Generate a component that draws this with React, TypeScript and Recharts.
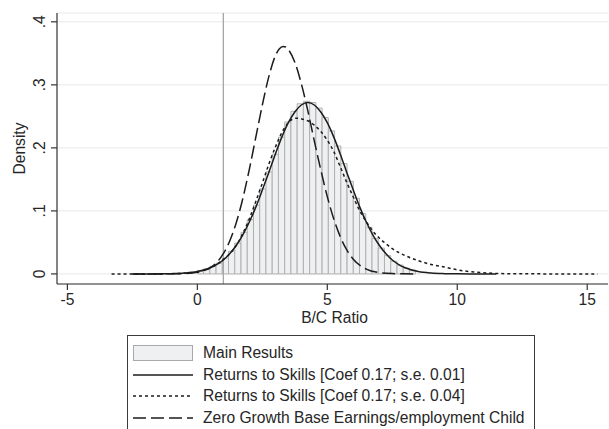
import React from "react";
import {
  ComposedChart,
  Line,
  XAxis,
  YAxis,
  CartesianGrid,
  ReferenceArea,
  ReferenceLine,
} from "recharts";

const FONT = "'Liberation Sans', Arial, Helvetica, sans-serif";
const TEXT = "#262626";

// histogram bins (left edge), bin width 0.24
const binStarts = [
  0, 0.24, 0.48, 0.72, 0.96, 1.2, 1.44, 1.68, 1.92, 2.16, 2.4, 2.64, 2.88,
  3.12, 3.36, 3.6, 3.84, 4.08, 4.32, 4.56, 4.8, 5.04, 5.28, 5.52, 5.76, 6.0,
  6.24, 6.48, 6.72, 6.96, 7.2, 7.44, 7.68, 7.92, 8.16,
];
const BIN_WIDTH = 0.24;
const binHeights = [
  0.005, 0.008, 0.012, 0.017, 0.025, 0.036, 0.049, 0.066, 0.086, 0.109, 0.135,
  0.162, 0.19, 0.217, 0.241, 0.258, 0.27, 0.274, 0.272, 0.263, 0.248, 0.227,
  0.203, 0.175, 0.147, 0.12, 0.096, 0.074, 0.056, 0.041, 0.029, 0.02, 0.014,
  0.009, 0.006,
];

// Returns to Skills [Coef 0.17; s.e. 0.01]
const solidX = [
  -2.5, -2, -1.5, -1, -0.5, 0, 0.5, 1, 1.25, 1.5, 1.75, 2, 2.25, 2.5, 2.75, 3,
  3.25, 3.5, 3.75, 4, 4.25, 4.5, 4.75, 5, 5.25, 5.5, 5.75, 6, 6.25, 6.5, 6.75,
  7, 7.25, 7.5, 7.75, 8, 8.5, 9, 9.5, 10, 10.5, 11, 11.5,
];
const solidY = [
  0, 0, 0.0001, 0.0004, 0.0013, 0.0037, 0.0097, 0.022, 0.0323, 0.0455, 0.0621,
  0.0824, 0.106, 0.133, 0.161, 0.19, 0.217, 0.24, 0.257, 0.268, 0.272, 0.268,
  0.257, 0.24, 0.217, 0.19, 0.161, 0.133, 0.106, 0.0824, 0.0621, 0.0455, 0.0323,
  0.022, 0.0149, 0.0097, 0.0037, 0.0013, 0.0004, 0.0001, 0, 0, 0,
];

// Returns to Skills [Coef 0.17; s.e. 0.04]
const dottedX = [
  -3.3, -2.5, -2, -1.5, -1, -0.5, 0, 0.5, 1, 1.25, 1.5, 1.75, 2, 2.25, 2.5,
  2.75, 3, 3.25, 3.5, 3.8, 4, 4.25, 4.5, 4.75, 5, 5.25, 5.5, 5.75, 6, 6.25, 6.5,
  6.75, 7, 7.25, 7.5, 7.75, 8, 8.5, 9, 9.5, 10, 10.5, 11, 11.5, 12, 13, 14, 15.4,
];
const dottedY = [
  0, 0, 0, 0.0001, 0.0003, 0.001, 0.0035, 0.0095, 0.023, 0.032, 0.0454, 0.0643,
  0.0875, 0.115, 0.144, 0.174, 0.201, 0.224, 0.24, 0.247, 0.246, 0.243, 0.236,
  0.226, 0.212, 0.194, 0.17, 0.145, 0.122, 0.1, 0.083, 0.068, 0.057, 0.048,
  0.04, 0.034, 0.029, 0.021, 0.015, 0.011, 0.0065, 0.0035, 0.0018, 0.0008,
  0.0003, 0.0001, 0, 0,
];

// Zero Growth Base Earnings/employment Child
const dashedX = [
  -2.5, -2, -1.5, -1, -0.5, 0, 0.5, 0.75, 1, 1.25, 1.5, 1.75, 2, 2.25, 2.5,
  2.75, 3, 3.15, 3.3, 3.4, 3.5, 3.75, 4, 4.25, 4.5, 4.75, 5, 5.25, 5.5, 5.75, 6,
  6.5, 7, 7.5, 8, 8.5,
];
const dashedY = [
  0, 0, 0, 0.0001, 0.0005, 0.0025, 0.01, 0.0184, 0.0321, 0.0527, 0.0817, 0.1197,
  0.166, 0.217, 0.268, 0.313, 0.346, 0.357, 0.361, 0.36, 0.356, 0.336, 0.302,
  0.259, 0.211, 0.165, 0.1226, 0.087, 0.0589, 0.038, 0.0234, 0.0077, 0.0021,
  0.0005, 0.0001, 0,
];

const xTicks = [-5, 0, 5, 10, 15];
const yTicks = [0, 0.1, 0.2, 0.3, 0.4];
const yTickLabels = ["0", ".1", ".2", ".3", ".4"];
const cutoffX = 1;

const legendItems = [
  { label: "Main Results", kind: "box" },
  { label: "Returns to Skills [Coef 0.17; s.e. 0.01]", kind: "solid" },
  { label: "Returns to Skills [Coef 0.17; s.e. 0.04]", kind: "dotted" },
  { label: "Zero Growth Base Earnings/employment Child", kind: "dashed" },
];

const zip = (xs: number[], ys: number[]) => xs.map((x, i) => ({ x, y: ys[i] }));
const solidData = zip(solidX, solidY);
const dottedData = zip(dottedX, dottedY);
const dashedData = zip(dashedX, dashedY);

const LINE = "#1c1c1c";
const DASH: Record<string, string | undefined> = {
  solid: undefined,
  dotted: "3 3",
  dashed: "13 5",
};

function YTick(props: any) {
  const { x, y, payload } = props;
  const i = yTicks.indexOf(payload.value);
  return (
    <text
      x={x}
      y={y}
      transform={`rotate(-90 ${x} ${y})`}
      textAnchor="middle"
      fontSize={15.6}
      fontFamily={FONT}
      fill={TEXT}
    >
      {i >= 0 ? yTickLabels[i] : payload.value}
    </text>
  );
}

function Swatch({ kind }: { kind: string }) {
  return (
    <svg width={60} height={16} style={{ display: "block", flex: "none" }}>
      {kind === "box" ? (
        <rect x={0.5} y={0.5} width={59} height={15} fill="#eef0f2" stroke="#a9a9a9" />
      ) : (
        <line
          x1={0}
          x2={60}
          y1={8}
          y2={8}
          stroke={LINE}
          strokeWidth={1.5}
          strokeDasharray={DASH[kind]}
        />
      )}
    </svg>
  );
}

export default function App() {
  return (
    <div
      style={{
        position: "fixed",
        left: 0,
        top: 0,
        width: 609,
        height: 429,
        overflow: "hidden",
        background: "#fff",
      }}
    >
      <ComposedChart
        width={609}
        height={329}
        margin={{ top: 13, right: 1, left: 0, bottom: 0 }}
      >
        <CartesianGrid vertical={false} stroke="#e8e8e8" strokeWidth={1} />
        <XAxis
          type="number"
          dataKey="x"
          domain={[-5.4, 15.8]}
          allowDataOverflow
          ticks={xTicks}
          height={45}
          tickSize={6}
          tickMargin={4}
          axisLine={{ stroke: "#333", strokeWidth: 1.2 }}
          tickLine={{ stroke: "#333", strokeWidth: 1.2 }}
          tick={{ fontSize: 15.6, fill: TEXT, fontFamily: FONT }}
          label={{
            content: (p: any) => {
              const vb = p.viewBox || { x: 57, y: 284, width: 551 };
              return (
                <text
                  x={vb.x + vb.width / 2 + 2}
                  y={vb.y + 38.6}
                  textAnchor="middle"
                  fontSize={15.6}
                  fontFamily={FONT}
                  fill={TEXT}
                >
                  B/C Ratio
                </text>
              );
            },
          }}
        />
        <YAxis
          type="number"
          dataKey="y"
          domain={[-0.016, 0.414]}
          allowDataOverflow
          ticks={yTicks}
          width={57}
          tickSize={6}
          tickMargin={5.5}
          axisLine={{ stroke: "#333", strokeWidth: 1.2 }}
          tickLine={{ stroke: "#333", strokeWidth: 1.2 }}
          tick={<YTick />}
          label={{
            content: (p: any) => {
              const vb = p.viewBox || { x: 0, y: 13, height: 271 };
              const cy = vb.y + vb.height / 2;
              return (
                <text
                  x={25}
                  y={cy}
                  transform={`rotate(-90 25 ${cy})`}
                  textAnchor="middle"
                  fontSize={15.6}
                  fontFamily={FONT}
                  fill={TEXT}
                >
                  Density
                </text>
              );
            },
          }}
        />
        {binStarts.map((b, i) => (
          <ReferenceArea
            key={i}
            x1={b}
            x2={b + BIN_WIDTH}
            y1={0}
            y2={binHeights[i]}
            fill="#eef0f2"
            fillOpacity={1}
            stroke="#b0b0b0"
            strokeWidth={1}
          />
        ))}
        <ReferenceLine x={cutoffX} stroke="#a6a6a6" strokeWidth={1.3} />
        <Line
          data={dashedData}
          dataKey="y"
          type="monotone"
          stroke={LINE}
          strokeWidth={1.5}
          strokeDasharray={DASH.dashed}
          dot={false}
          activeDot={false}
          isAnimationActive={false}
        />
        <Line
          data={dottedData}
          dataKey="y"
          type="monotone"
          stroke={LINE}
          strokeWidth={1.5}
          strokeDasharray={DASH.dotted}
          dot={false}
          activeDot={false}
          isAnimationActive={false}
        />
        <Line
          data={solidData}
          dataKey="y"
          type="monotone"
          stroke={LINE}
          strokeWidth={1.5}
          dot={false}
          activeDot={false}
          isAnimationActive={false}
        />
      </ComposedChart>

      <div
        style={{
          position: "absolute",
          left: 127,
          top: 335,
          width: 408,
          height: 100,
          boxSizing: "border-box",
          border: "1px solid #3a3a3a",
          padding: "6px 0 0 5px",
          fontFamily: FONT,
          fontSize: 15.6,
          color: TEXT,
        }}
      >
        {legendItems.map((it) => (
          <div
            key={it.label}
            style={{ display: "flex", alignItems: "center", height: 21.7 }}
          >
            <Swatch kind={it.kind} />
            <span style={{ marginLeft: 10, whiteSpace: "nowrap" }}>{it.label}</span>
          </div>
        ))}
      </div>
    </div>
  );
}
